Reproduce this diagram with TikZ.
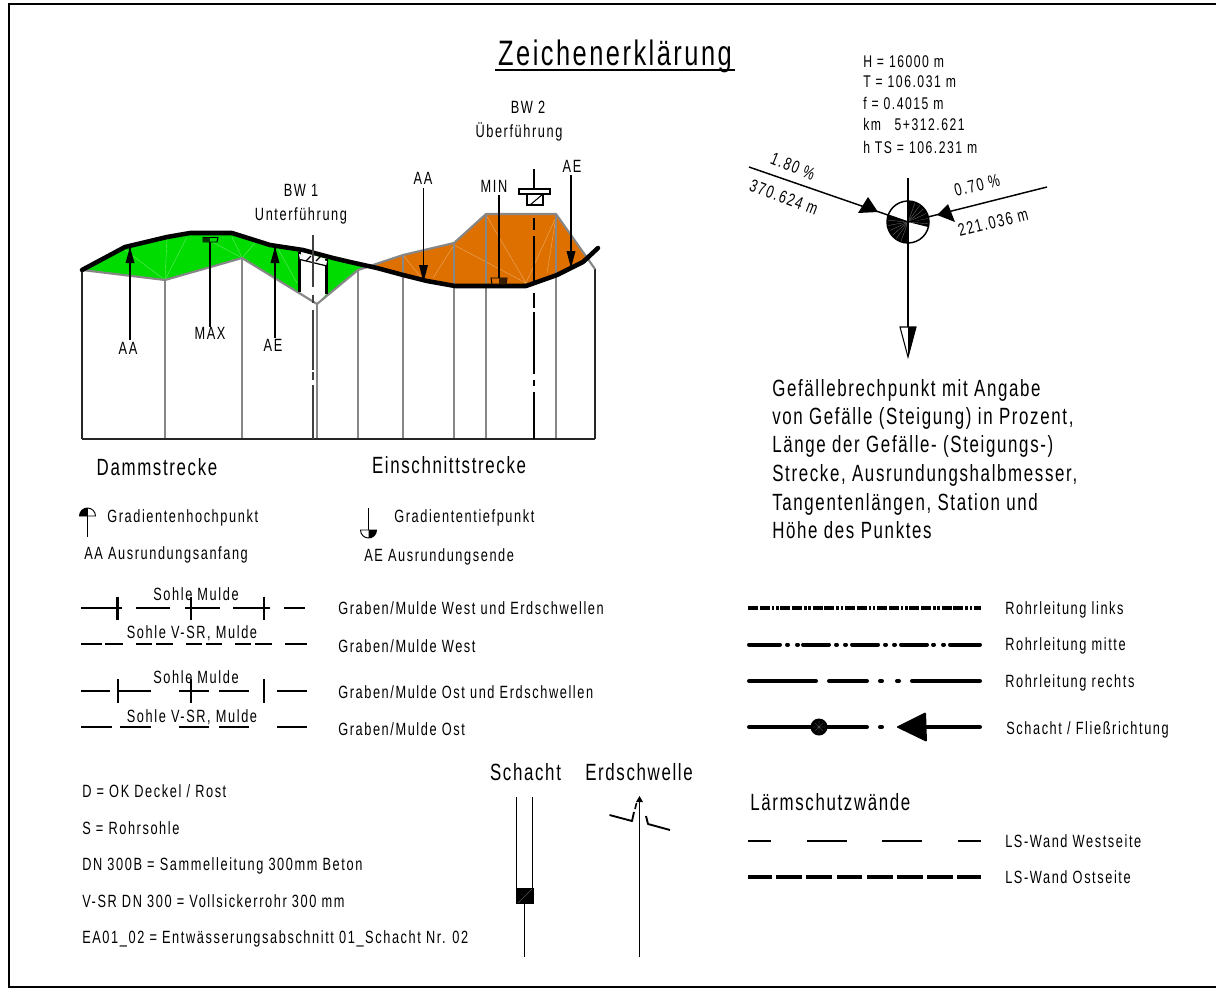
\documentclass[tikz,border=0pt]{standalone}
\usepackage{fontspec}
\setmainfont{Liberation Sans}[FakeStretch=0.72,LetterSpace=7]
\newfontfamily\smallface{Liberation Sans}[FakeStretch=0.72,LetterSpace=9]
\definecolor{damm}{RGB}{0,220,0}
\definecolor{cut}{RGB}{222,112,0}
\definecolor{ground}{RGB}{135,135,135}
\tikzset{
  x=0.75pt,y=-0.75pt,
  lab/.style={anchor=west,inner sep=0pt,text height=9.5pt,text depth=0pt,font=\smallface\fontsize{13.3}{15}\selectfont},
  labc/.style={anchor=center,inner sep=0pt,text height=9.5pt,text depth=0pt,font=\smallface\fontsize{13.3}{15}\selectfont},
  labs/.style={anchor=west,inner sep=0pt,text height=9pt,text depth=0pt,font=\smallface\fontsize{12.7}{15}\selectfont},
  big/.style={anchor=west,inner sep=0pt,text height=12.5pt,text depth=0pt,font=\fontsize{17.6}{20}\selectfont},
  bigc/.style={anchor=center,inner sep=0pt,text height=12.5pt,text depth=0pt,font=\fontsize{17.6}{20}\selectfont},
  pl/.style={line width=1.1pt,black},
  heavy/.style={line width=2.1pt,black},
  pipe/.style={line width=3pt,line cap=round},
  gnd/.style={line width=1.6pt,ground},
  faint/.style={line width=0.3pt,white,opacity=.4},
  road/.style={line width=3.4pt,black,line join=round,line cap=round},
}
\newcommand{\segs}[3]{\foreach \a/\b in {#3}{\draw[#1] (\a,#2) -- (\b,#2);}}
\begin{document}
\begin{tikzpicture}
\useasboundingbox (0,0) rectangle (1216,989);
\fill[white] (0,0) rectangle (1216,989);
\draw[line width=1pt] (1216,4) -- (9,4) -- (9,987) -- (1216,987);

% title
\node[anchor=center,inner sep=0pt,text height=19pt,text depth=0pt,font=\fontsize{26.5}{30}\selectfont] (title) at (615,53) {Zeichenerklärung};
\draw[line width=1.5pt] (495,70) -- (735,70);

% fills
\fill[damm] (82,270) -- (125,247) -- (167,237) -- (190,233) -- (232,233) -- (270,245) -- (303,250) -- (333,258) -- (368,267) -- (358,270) -- (317,304) -- (242,258) -- (165,280) -- cycle;
\fill[cut] (368,267) -- (403,255) -- (454,243) -- (486,214) -- (556,214) -- (587,258) -- (583,262) -- (557,275) -- (526,286) -- (455,286) -- (427,281) -- (403,275) -- cycle;
\foreach \p/\q in {125/250,167/238,187/237}{\draw[faint] (\p,\q) -- (165,280);}
\draw[faint] (203,237) -- (242,258);
\draw[faint] (232,237) -- (242,258);
\draw[faint] (255,243) -- (242,258);
\draw[faint] (277,247) -- (297,283);
\draw[faint] (403,255) -- (423,280);
\draw[faint] (454,245) -- (433,278);
\draw[faint] (454,245) -- (526,283);
\draw[faint] (486,215) -- (526,283);
\draw[faint] (556,217) -- (526,283);
\draw[faint] (556,217) -- (547,273);

% BW1 opening
\fill[white] (299,251) -- (327,259) -- (327,293) -- (317,304) -- (299,292) -- cycle;

% verticals
\draw[line width=1pt,black!85] (82,270) -- (82,439);
\draw[line width=1pt,black!85] (595,269) -- (595,439);
\foreach \x/\y in {165/280,242/258,317/304,358/270,403/255,454/243,486/214,556/214}{\draw[line width=1.2pt,ground] (\x,\y) -- (\x,439);}
\draw[line width=1.1pt,black!85] (82,439) -- (595,439);
\draw[gnd,line join=round] (82,270) -- (165,280) -- (242,258) -- (317,304) -- (358,270) -- (403,255) -- (454,243) -- (486,214) -- (556,214) -- (595,269);

% road
\draw[road] (82,270) -- (125,247) -- (167,237) -- (190,233) -- (232,233) -- (270,245) -- (303,250) -- (333,258) -- (350,262) -- (377,268) -- (403,275) -- (427,281) -- (455,286) -- (526,286) -- (557,275) -- (583,262) -- (598,248);

% BW1
\draw[line width=2.6pt] (299.5,252) -- (299.5,292);
\draw[line width=2.6pt] (326.5,259) -- (326.5,294);
\fill[white] (299,254) -- (327,261) -- (326,266) -- (300,260) -- cycle;
\draw[line width=0.9pt] (300,259.5) -- (327,266);
\foreach \x in {306,316}{\draw[line width=1pt] (\x,261) -- (\x+5,256);}
\foreach \a/\b in {235/287,295/303,310/370,372/380,385/439}{\draw[line width=1pt,black!75] (313,\a) -- (313,\b);}

% BW2
\foreach \a/\b in {169/189,218/230,236/285,293/308,312/374,380/386,392/439}{\draw[line width=1pt] (534,\a) -- (534,\b);}
\draw[line width=1pt,fill=white] (519,189) rectangle (550,194);
\draw[line width=1pt,fill=white] (527,194) rectangle (543,205);
\draw[line width=.8pt] (530,205) -- (543,194);

% Arrows in the profile
\coordinate (aaT) at (130,248); \coordinate (aaB) at (130,340);
\draw[pl] (aaB) -- (aaT);
\fill (130,247) -- (134.5,263) -- (125.5,263) -- cycle;
\coordinate (maxT) at (210,240); \coordinate (maxB) at (210,327);
\draw[pl] (maxB) -- (maxT);
\draw[line width=.7pt,fill=damm] (203,237.5) -- (218,237.5) -- (217,242) -- (203,242) -- cycle;
\fill[black!75!damm] (203,237.5) -- (210,237.5) -- (210,242) -- (203,242) -- cycle;
\coordinate (aeT) at (275,248); \coordinate (aeB) at (275,338);
\draw[pl] (aeB) -- (aeT);
\fill (275,247) -- (279.5,263) -- (270.5,263) -- cycle;
\coordinate (aa2T) at (423.5,188); \coordinate (aa2B) at (423.5,281);
\draw[pl] (aa2T) -- (aa2B);
\fill (423.5,282) -- (428,265) -- (419,265) -- cycle;
\coordinate (minT) at (499,195); \coordinate (minB) at (499,284);
\draw[pl] (minT) -- (minB);
\draw[line width=.7pt,fill=cut] (491,278) -- (507,278) -- (506,284) -- (492,284) -- cycle;
\fill[black!75!cut] (499,278) -- (507,278) -- (506,284) -- (499,284) -- cycle;
\coordinate (ae2T) at (571,175); \coordinate (ae2B) at (571,268);
\draw[pl] (ae2T) -- (ae2B);
\fill (571,268) -- (575.5,251) -- (566.5,251) -- cycle;

\node[labc] (lAA) at (128,348) {AA};
\node[labc] (lMAX) at (210,333) {MAX};
\node[labc] (lAE) at (273,345) {AE};
\node[labc] (lBWa) at (301,190) {BW 1};
\node[labc] (lUnter) at (301,214) {Unterführung};
\node[labc] (lBWb) at (528,107) {BW 2};
\node[labc] (lUeber) at (519,131) {Überführung};
\node[labc] (lAAb) at (423,178) {AA};
\node[labc] (lMIN) at (494,186) {MIN};
\node[labc] (lAEb) at (572,166) {AE};

\node[bigc] (damm) at (157,467) {Dammstrecke};
\node[bigc] (einschn) at (449,465) {Einschnittstrecke};

% symbols
\draw[pl] (87.5,508) -- (87.5,537);
\fill (79.5,516) arc (180:270:8) -- (87.5,516) -- cycle;
\draw[line width=.7pt] (95.5,516) arc (0:-180:8) -- cycle;
\node[lab] (hoch) at (107,516) {Gradientenhochpunkt};
\draw[pl] (368.5,508) -- (368.5,530);
\fill (368.5,530) -- (376.5,530) arc (0:90:8) -- cycle;
\draw[line width=.7pt] (360.5,530) arc (180:0:8) -- cycle;
\node[lab] (tief) at (394,516) {Gradiententiefpunkt};
\node[lab] (anf) at (84,553) {AA Ausrundungsanfang};
\node[lab] (ende) at (364,555) {AE Ausrundungsende};

% Graben lines
\segs{heavy}{608}{81/122,136/170,185/220,233/270,284/305}
\segs{heavy}{644}{81/102,105/123,136/152,156/173,186/202,206/222,235/251,255/272,285/307}
\segs{heavy}{691}{81/110,118/151,179/209,219/249,277/307}
\segs{heavy}{727}{81/112,120/151,179/209,219/249,277/307}
\foreach \x in {117.7,191,264}{\draw[heavy] (\x,596.5) -- (\x,620);}
\foreach \x in {118,191,264}{\draw[heavy] (\x,679) -- (\x,703);}
\node[labc] (s1) at (196,594) {Sohle Mulde};
\node[labc] (s2) at (192,632.5) {Sohle V-SR, Mulde};
\node[labc] (s3) at (196,677.5) {Sohle Mulde};
\node[labc] (s4) at (192,716) {Sohle V-SR, Mulde};
\node[lab] (g1) at (338,608) {Graben/Mulde West und Erdschwellen};
\node[lab] (g2) at (338,646) {Graben/Mulde West};
\node[lab] (g3) at (338,692) {Graben/Mulde Ost und Erdschwellen};
\node[lab] (g4) at (338,729) {Graben/Mulde Ost};

% Right lines
\draw[line width=3pt,dash pattern=on 7.5pt off 1.3pt on 7.5pt off 1.5pt on 1.9pt off 1.3pt on 1.9pt off 1.3pt] (748,608) -- (981,608);
\segs{pipe}{644.5}{749/780,787/788,797/798,803/829,836/837,845/846,852/878,885/886,894/895,901/927,933/934,943/944,950/980}
\segs{pipe}{681}{749/816,829/867,880/882,897/899,912/980}
\segs{pipe}{727}{749/867,880/882,927/980}
\fill (819,727) circle (8.5);
\draw[line width=.2pt,white,opacity=.4] (815,723) -- (823,731) (815,731) -- (823,723) (819,721) -- (819,733) (813,727) -- (825,727);
\fill[rounded corners=1pt] (896,727) -- (926,712) -- (927,742) -- cycle;
\node[lab] (r1) at (1005,608) {Rohrleitung links};
\node[lab] (r2) at (1005,644) {Rohrleitung mitte};
\node[lab] (r3) at (1005,681) {Rohrleitung rechts};
\node[lab] (r4) at (1006,728) {Schacht / Fließrichtung};

\node[big] (ls) at (750,802) {Lärmschutzwände};
\segs{line width=1.4pt}{841}{748/771,807/847,882/922,958/981}
\segs{line width=2.7pt}{877}{748/772,776/802,806/832,837/862,867/893,897/923,927/953,957/981}
\node[lab] (ls1) at (1005,841) {LS-Wand Westseite};
\node[lab] (ls2) at (1005,877) {LS-Wand Ostseite};

% Schacht, Erdschwelle
\node[bigc] (sch) at (525.5,772) {Schacht};
\node[bigc] (erd) at (639,772) {Erdschwelle};
\draw[pl] (516.7,797) -- (516.7,890);
\draw[pl] (532.7,797) -- (532.7,890);
\fill (516,888) rectangle (533.5,904);
\draw[line width=.2pt,white,opacity=.6] (518,903) -- (532,889);
\draw[pl] (524.7,904) -- (524.7,957);
\draw[pl] (639.3,957) -- (639.3,800);
\fill (639.5,796) -- (643,802) -- (636,802) -- cycle;
\draw[line width=1.4pt,line join=round] (609.5,815) -- (632,821) -- (634,812);
\draw[line width=1.4pt,line join=round] (646,816) -- (648,824) -- (670,830);
\draw[line width=1.2pt] (635,809) -- (636.5,803);

% Left texts
\node[lab] (t1) at (82,791) {D = OK Deckel / Rost};
\node[lab] (t2) at (82,828) {S = Rohrsohle};
\node[lab] (t3) at (82,864) {DN 300B = Sammelleitung 300mm Beton};
\node[lab] (t4) at (82,901) {V-SR DN 300 = Vollsickerrohr 300 mm};
\node[lab] (t5) at (82,937) {EA01\_02 = Entwässerungsabschnitt 01\_Schacht Nr. 02};

% Break point
\coordinate (bp) at (908,222);
\fill (bp) -- (908,201) arc (-90:14:21) -- cycle;
\fill (bp) -- (908,243) arc (90:200:21) -- cycle;
\foreach \r in {70,55,40,25,10,-5}{\draw[line width=.2pt,white,opacity=.5] (bp) -- +({21*cos(\r)},{-21*sin(\r)});}
\foreach \r in {250,235,220,205,190,175}{\draw[line width=.2pt,white,opacity=.5] (bp) -- +({21*cos(\r)},{-21*sin(\r)});}
\draw[line width=1.1pt] (bp) circle (21);
\coordinate (inL) at (749,167); \coordinate (inR) at (1047,187); \coordinate (outT) at (908,178); \coordinate (outB) at (908,330);
\draw[pl] (inL) -- (bp);
\draw[pl] (inR) -- (bp);
\draw[pl] (outT) -- (outB);
\fill (878,212) -- (868,197) -- (858,213) -- cycle;
\fill (937,215) -- (948,204) -- (955,222) -- cycle;
\draw[line width=.8pt,fill=white] (900,327) -- (916,327) -- (908,357) -- cycle;
\fill (908,327) -- (916,327) -- (908,357) -- cycle;
\node[labs] (p1) at (863,61) {H = 16000 m};
\node[labs] (p2) at (863,81) {T = 106.031 m};
\node[labs] (p3) at (863,103) {f = 0.4015 m};
\node[labs] (p4) at (863,124) {km\hspace{.8em}5+312.621};
\node[labs] (p5) at (863,147) {h TS = 106.231 m};
\node[labc,rotate=-22] (g18) at (793,166) {1.80 \%};
\node[labc,rotate=-21] (l37) at (784,197) {370.624 m};
\node[labc,rotate=14] (g07) at (977,185) {0.70 \%};
\node[labc,rotate=14] (l22) at (993,222) {221.036 m};
\node[big] (b1) at (772,388) {Gefällebrechpunkt mit Angabe};
\node[big] (b2) at (772,416) {von Gefälle (Steigung) in Prozent,};
\node[big] (b3) at (772,444) {Länge der Gefälle- (Steigungs-)};
\node[big] (b4) at (772,473) {Strecke, Ausrundungshalbmesser,};
\node[big] (b5) at (772,502) {Tangentenlängen, Station und};
\node[big] (b6) at (772,530) {Höhe des Punktes};
\end{tikzpicture}
\end{document}
